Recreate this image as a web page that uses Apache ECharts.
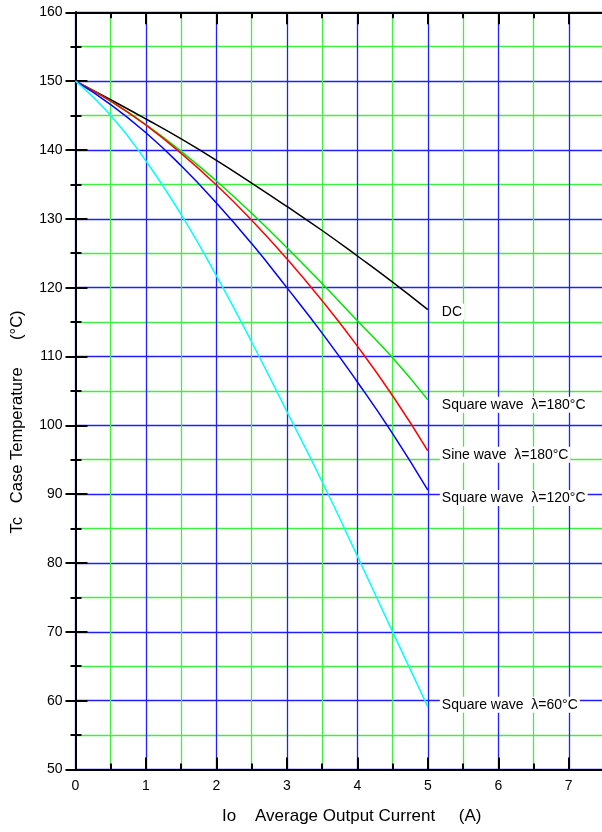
<!DOCTYPE html>
<html><head><meta charset="utf-8">
<script src="https://cdn.jsdelivr.net/npm/echarts@6/dist/echarts.min.js"></script>
<style>html,body{margin:0;padding:0;background:#fff}#c{width:602px;height:832px}</style>
</head><body><div id="c"></div>
<script>
// Data
const current = [0, 0.5, 1, 1.5, 2, 2.5, 3, 3.5, 4, 4.5, 5];
const dcTemp      = [150, 147.3, 144.5, 141.6, 138.5, 135.2, 131.8, 128.3, 124.6, 120.8, 116.8];
const sq180Temp   = [150, 147.1, 143.7, 139.8, 135.5, 130.8, 125.8, 120.6, 115.2, 109.8, 103.7];
const sine180Temp = [150, 147.1, 143.6, 139.5, 134.9, 129.8, 124.2, 118.1, 111.5, 104.3, 96.3];
const sq120Temp   = [150, 146.6, 142.5, 137.7, 132.3, 126.4, 120.0, 113.4, 106.3, 98.8, 90.6];
const sq60Temp    = [150, 145.0, 138.4, 130.6, 121.7, 112.1, 102.0, 91.8, 81.0, 70.0, 59.1];
const seriesNames = ['DC', 'Square wave  λ=180°C', 'Sine wave  λ=180°C', 'Square wave  λ=120°C', 'Square wave  λ=60°C'];
const seriesColors = ['#000000', '#00e400', '#ff0000', '#0000ff', '#00ffff'];
const labelOffsets = [[0, 2], [0, 5], [0, 4], [0, 8], [0, -2]];
const xLabels = [0, 1, 2, 3, 4, 5, 6, 7];
const xTitle = 'Io    Average Output Current     (A)';
const yTitle = 'Tc   Case Temperature      (°C)';

const FONT = '"Liberation Sans", Arial, Helvetica, sans-serif';
const allSeries = [dcTemp, sq180Temp, sine180Temp, sq120Temp, sq60Temp];

const chart = echarts.init(document.getElementById('c'), null, {renderer: 'canvas'});
const axisBlack = {show: true, lineStyle: {color: '#000', width: 2}};
const BLUE_GRID = '#2020ff';
const GREEN_GRID = '#40f040';

const xCommon = {type: 'value', min: 0, max: 7.5, gridIndex: 0};
const yCommon = {type: 'value', min: 50, max: 160, interval: 10, gridIndex: 0};

const option = {
  backgroundColor: '#fff',
  animation: false,
  textStyle: {fontFamily: FONT},
  grid: {left: 75.5, width: 528.5, top: 12.3, bottom: 62.5, containLabel: false, outerBoundsMode: 'none'},
  xAxis: [
    Object.assign({}, xCommon, {
      position: 'bottom', interval: 0.5,
      axisLine: axisBlack,
      axisTick: {show: true, inside: true, length: 6, lineStyle: {color: '#000', width: 2}},
      axisLabel: {show: true, interval: 0, margin: 10, fontSize: 14, color: '#000', fontFamily: FONT,
        formatter: v => (xLabels.indexOf(v) >= 0 ? String(v) : '')},
      splitLine: {show: true, lineStyle: {color: [BLUE_GRID, GREEN_GRID], width: 1.3}},
      name: xTitle,
      nameLocation: 'middle', nameGap: 38,
      nameTextStyle: {fontSize: 17, color: '#000', fontFamily: FONT, padding: [0, 0, 0, 24]}
    }),
    Object.assign({}, xCommon, {
      position: 'bottom', interval: 1,
      axisLine: {show: false},
      axisTick: {show: true, inside: true, length: 12, lineStyle: {color: '#000', width: 2}},
      axisLabel: {show: false}, splitLine: {show: false}
    }),
    Object.assign({}, xCommon, {
      position: 'top', interval: 0.5,
      axisLine: axisBlack,
      axisTick: {show: true, inside: true, length: 6, lineStyle: {color: '#000', width: 2}},
      axisLabel: {show: false}, splitLine: {show: false}
    }),
    Object.assign({}, xCommon, {
      position: 'top', interval: 1,
      axisLine: {show: false},
      axisTick: {show: true, inside: true, length: 12, lineStyle: {color: '#000', width: 2}},
      axisLabel: {show: false}, splitLine: {show: false}
    })
  ],
  yAxis: [
    Object.assign({}, yCommon, {
      position: 'left',
      axisLine: axisBlack,
      axisTick: {show: true, inside: true, length: 12, lineStyle: {color: '#000', width: 2}},
      minorTick: {show: true, splitNumber: 2, length: 6, lineStyle: {color: '#000', width: 2}},
      axisLabel: {show: true, margin: 13, fontSize: 14, color: '#000', fontFamily: FONT},
      splitLine: {show: true, lineStyle: {color: BLUE_GRID, width: 1.3}},
      minorSplitLine: {show: true, lineStyle: {color: GREEN_GRID, width: 1.3}},
      name: yTitle,
      nameLocation: 'middle', nameGap: 50, nameRotate: 90,
      nameTextStyle: {fontSize: 16.5, color: '#000', fontFamily: FONT, padding: [0, 62, 0, 0]}
    }),
    Object.assign({}, yCommon, {
      position: 'right',
      axisLine: axisBlack,
      axisTick: {show: true, inside: true, length: 10, lineStyle: {color: '#000', width: 2}},
      minorTick: {show: true, splitNumber: 2, length: 5, lineStyle: {color: '#000', width: 2}},
      axisLabel: {show: false}, splitLine: {show: false}, minorSplitLine: {show: false}
    })
  ],
  series: allSeries.map((vals, i) => ({
    type: 'line',
    name: seriesNames[i],
    xAxisIndex: 0, yAxisIndex: 0,
    data: current.map((x, j) => [x, vals[j]]),
    smooth: 0.5,
    showSymbol: false,
    symbol: 'none',
    z: 5,
    lineStyle: {color: seriesColors[i], width: 1.5},
    endLabel: {
      show: true, formatter: seriesNames[i], color: '#000', fontSize: 14, fontFamily: FONT,
      backgroundColor: '#fff', padding: [1, 2], distance: 12, offset: labelOffsets[i]
    }
  }))
};
chart.setOption(option);
</script>
</body></html>
